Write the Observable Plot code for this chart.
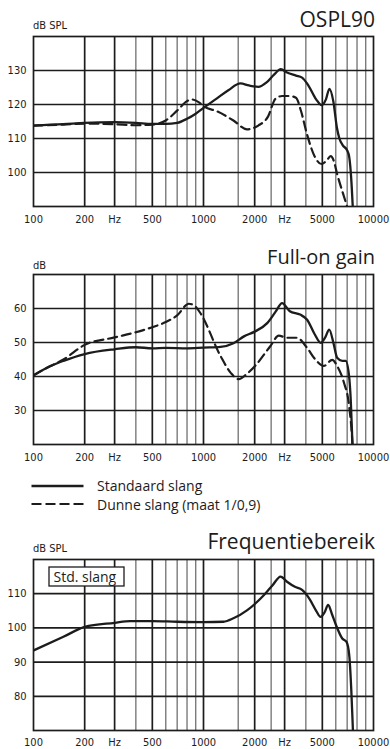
<!DOCTYPE html>
<html><head><meta charset="utf-8">
<script src="https://cdn.jsdelivr.net/npm/d3@7"></script>
<script src="https://cdn.jsdelivr.net/npm/@observablehq/plot@0.6"></script>
<style>
html,body{margin:0;padding:0;background:#fff;}
#root{position:relative;width:390px;height:749px;overflow:hidden;background:#fff;}
.chart{position:absolute;left:0;}
#overlay{position:absolute;left:0;top:0;z-index:5;}
</style></head><body><div id="root"></div>
<script>
// ---- axis / grid data ----
const xTickValues = [100,200,300,500,1000,2000,3000,5000,10000];
const xTickLabels = ["100","200","Hz","500","1000","2000","Hz","5000","10000"];
const majorGrid = [200,300,500,1000,2000,3000,5000];
const minorGrid = [400,600,700,800,900,1600,2500,4000,6000,7000,8000,9000];

// ---- OSPL90 ----
const osplYTicks = [100,110,120,130];
const osplStdFreq = [100,150,200,300,400,500,600,700,800,900,1000,1200,1400,1650,1850,2100,2350,2600,2850,3100,3500,3800,4150,4600,4950,5250,5500,5800,6100,6300,6600,7000,7200,7400,7600];
const osplStdDb   = [113.8,114.2,114.6,114.8,114.6,114.3,114.3,114.6,115.8,117.3,119.0,121.8,124.2,126.2,125.6,125.2,126.5,128.8,130.4,129.4,128.5,127.9,125.5,121.5,119.8,121.5,124.6,121.0,113.0,110.0,108.0,106.5,104.5,98.0,87.0];
const osplThinFreq = [100,150,200,300,400,500,600,700,800,850,950,1000,1200,1500,1800,2100,2400,2650,2900,3200,3500,3750,4050,4500,4950,5300,5600,5850,6100,6600,7100];
const osplThinDb   = [113.8,114.1,114.4,114.2,113.9,114.1,115.3,118.2,121.0,121.5,120.5,119.5,118.0,115.3,112.7,113.8,116.5,121.7,122.5,122.5,122.0,118.0,111.5,104.8,102.5,103.5,104.8,103.3,99.7,94.0,89.0];

// ---- Full-on gain ----
const gainYTicks = [30,40,50,60];
const gainStdFreq = [100,125,150,200,300,400,500,600,800,1000,1260,1500,1730,2000,2370,2650,2900,3220,3700,4070,4500,4890,5200,5490,5840,6110,6550,6860,7180,7350,7520,7650];
const gainStdDb   = [40.3,43.0,44.6,46.6,48.0,48.6,48.3,48.4,48.3,48.5,48.7,49.8,51.8,53.2,55.7,59.0,61.6,59.2,58.2,56.7,52.5,49.9,51.5,53.8,49.4,45.5,44.6,44.6,40.2,33.0,20.0,12.0];
const gainThinFreq = [100,125,150,200,300,400,500,600,700,820,900,960,1260,1450,1610,1800,2010,2470,2770,3100,3540,4070,4550,5100,5720,6110,6690,7180,7520,7650];
const gainThinDb   = [40.4,43.0,45.0,49.3,51.5,53.0,54.5,56.0,58.0,61.4,60.5,58.6,46.0,41.0,39.2,40.8,43.1,48.9,52.0,51.4,51.4,48.4,45.0,43.1,44.9,43.1,38.3,31.5,20.0,12.0];

// ---- Frequentiebereik ----
const rangeYTicks = [80,90,100,110];
const rangeStdFreq = [100,150,200,300,370,500,700,1000,1310,1500,1810,2270,2550,2840,3100,3450,3800,4200,4600,4880,5150,5410,5700,6000,6550,6940,7200,7400,7530,7650];
const rangeStdDb   = [93.4,97.4,100.3,101.5,102.0,102.0,101.8,101.7,101.8,102.8,105.2,109.6,112.5,115.0,113.5,112.0,111.1,108.5,105.0,103.2,104.5,106.7,104.0,101.0,96.9,95.9,92.0,82.0,72.8,64.0];

const toRows = (f, v) => f.map((x, i) => ({f: x, db: v[i]}));
const xTickRows = xTickValues.map((v, i) => ({f: v, label: xTickLabels[i]}));
const axisFont = "'DejaVu Sans Condensed', 'Liberation Sans Narrow', 'Liberation Sans', sans-serif";
const ink = "#1c1c1c";

function makeChart({top, height, marginBottom, labelDy, yDomain, yTicks, solid, dashed}) {
  const marks = [
    Plot.ruleX(minorGrid, {stroke: "#707070", strokeWidth: 1.3}),
    Plot.ruleX(majorGrid, {stroke: ink, strokeWidth: 1.7}),
    Plot.ruleY(yTicks, {stroke: ink, strokeWidth: 1.7}),
  ];
  if (dashed) marks.push(Plot.line(dashed, {x: "f", y: "db", stroke: ink, strokeWidth: 2.2, strokeDasharray: "9,5", curve: "monotone-x", clip: true}));
  marks.push(Plot.line(solid, {x: "f", y: "db", stroke: ink, strokeWidth: 2.3, curve: "monotone-x", clip: true}));
  marks.push(Plot.frame({stroke: ink, strokeWidth: 1.7}));
  marks.push(Plot.text(xTickRows, {x: "f", text: "label", frameAnchor: "bottom", lineAnchor: "top", dy: labelDy, fill: ink}));
  marks.push(Plot.axisY(yTicks, {tickSize: 0, tickPadding: 7, label: null, fill: ink}));
  const svg = Plot.plot({
    width: 390, height,
    marginLeft: 33, marginRight: 17, marginTop: 6, marginBottom,
    x: {type: "log", domain: [100, 10000], axis: null},
    y: {domain: yDomain},
    style: {fontFamily: axisFont, fontSize: "11px", color: ink, background: "transparent"},
    marks
  });
  svg.classList.add("chart");
  svg.style.top = top + "px";
  return svg;
}

const root = document.getElementById("root");
root.appendChild(makeChart({top: 30, height: 200, marginBottom: 24, labelDy: 9, yDomain: [90, 140], yTicks: osplYTicks,
  solid: toRows(osplStdFreq, osplStdDb), dashed: toRows(osplThinFreq, osplThinDb)}));
root.appendChild(makeChart({top: 268, height: 200, marginBottom: 24, labelDy: 9, yDomain: [20, 70], yTicks: gainYTicks,
  solid: toRows(gainStdFreq, gainStdDb), dashed: toRows(gainThinFreq, gainThinDb)}));
root.appendChild(makeChart({top: 553, height: 196, marginBottom: 19, labelDy: 8, yDomain: [70, 120], yTicks: rangeYTicks,
  solid: toRows(rangeStdFreq, rangeStdDb)}));

// ---- titles, units, legend, annotation ----
const titleFont = "'Open Sans', 'Noto Sans', sans-serif";
const ns = "http://www.w3.org/2000/svg";
const ov = document.createElementNS(ns, "svg");
ov.setAttribute("id", "overlay");
ov.setAttribute("width", 390);
ov.setAttribute("height", 749);
function el(name, attrs, text) {
  const e = document.createElementNS(ns, name);
  for (const k in attrs) e.setAttribute(k, attrs[k]);
  if (text != null) e.textContent = text;
  ov.appendChild(e);
  return e;
}
const unitStyle = {"font-family": axisFont, "font-size": "11px", fill: ink};
const titleStyle = {"font-family": titleFont, fill: ink, "text-anchor": "end"};
el("text", {...unitStyle, x: 33, y: 29}, "dB SPL");
el("text", {...titleStyle, x: 375, y: 26.5, "font-size": "21px"}, "OSPL90");
el("text", {...unitStyle, x: 33, y: 269}, "dB");
el("text", {...titleStyle, x: 375, y: 263.5, "font-size": "20px"}, "Full-on gain");
el("line", {x1: 31.5, x2: 83.5, y1: 486, y2: 486, stroke: ink, "stroke-width": 2.3});
el("line", {x1: 31.5, x2: 83.5, y1: 504, y2: 504, stroke: ink, "stroke-width": 2.2, "stroke-dasharray": "10,4"});
el("text", {"font-family": titleFont, "font-size": "14px", fill: ink, x: 97, y: 491}, "Standaard slang");
el("text", {"font-family": titleFont, "font-size": "14px", fill: ink, x: 97, y: 509.5}, "Dunne slang (maat 1/0,9)");
el("text", {...unitStyle, x: 33, y: 551.5}, "dB SPL");
el("text", {...titleStyle, x: 375, y: 549, "font-size": "21px"}, "Frequentiebereik");
el("rect", {x: 49, y: 567, width: 75, height: 19, fill: "#fff", stroke: ink, "stroke-width": 1.3});
el("text", {"font-family": titleFont, "font-size": "14px", fill: ink, x: 53.5, y: 582}, "Std. slang");
root.appendChild(ov);
</script>
</body></html>
